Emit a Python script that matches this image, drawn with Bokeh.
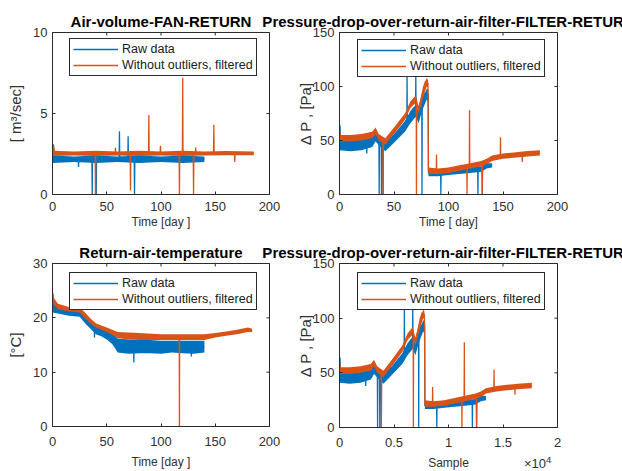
import math
from bokeh.plotting import figure
from bokeh.layouts import row, column
from bokeh.models import FixedTicker, Legend, LegendItem, Range1d, Div, CustomJSTickFormatter
from bokeh.embed import file_html
from bokeh.resources import INLINE

BLUE = "#0072BD"
ORANGE = "#D95319"
FONT = "Liberation Sans"
AXC = "#2b2b2b"
TXT = "#303030"

# ---------------- Air volume (top-left) ----------------
air_days_raw = [0, 0.7, 1.4, 23.7, 24, 24.3, 36.3, 36.6, 36.9, 40, 40.3, 40.6,
                61.4, 61.7, 62, 69.4, 69.7, 70, 75.3, 75.6, 75.9, 140]
air_raw = [2.2, 3.1, 2.2, 2.2, 1.7, 2.2, 2.2, 0, 2.2, 2.2, 0, 2.2,
           2.2, 3.9, 2.2, 2.2, 3.6, 2.2, 2.2, 0, 2.2, 2.2]
air_days_filt = [0, 1, 2, 39.3, 39.6, 39.9, 57.7, 58, 58.3, 71.6, 71.9, 72.2,
                 88.5, 88.8, 89.1, 99.2, 99.5, 99.8, 116.7, 117, 117.3, 119.7, 120, 120.3,
                 129.7, 130, 130.3, 131.7, 132, 132.3, 148.4, 148.7, 149, 167.7, 168, 168.3, 185.5]
air_filt = [2.55, 3.0, 2.55, 2.55, 0, 2.55, 2.55, 2.9, 2.55, 2.55, 0.25, 2.55,
            2.55, 4.9, 2.55, 2.55, 3.0, 2.55, 2.55, 0, 2.55, 2.55, 7.2, 2.55,
            2.55, 0, 2.55, 2.55, 2.9, 2.55, 2.55, 4.3, 2.55, 2.55, 2.0, 2.55, 2.55]
air_band_raw_days = [0, 20, 40, 60, 80, 100, 120, 140]
air_band_raw_lo = [1.95, 2.0, 1.95, 2.0, 1.95, 2.0, 1.95, 2.0]
air_band_raw_hi = [2.4, 2.35, 2.4, 2.35, 2.4, 2.35, 2.4, 2.35]
air_band_filt_days = [0, 20, 40, 60, 80, 100, 120, 140, 160, 185.5]
air_band_filt_lo = [2.38, 2.4, 2.38, 2.4, 2.38, 2.4, 2.38, 2.4, 2.42, 2.42]
air_band_filt_hi = [2.7, 2.66, 2.7, 2.66, 2.7, 2.66, 2.7, 2.66, 2.68, 2.66]

# ---------------- Pressure drop (top-right / bottom-right) ----------------
press_days_raw = [0, 0.5, 1, 10, 20, 24.7, 25, 25.3, 30, 33, 35, 36.2, 36.4, 36.6,
                  38.3, 38.5, 38.7, 39.8, 40, 40.2, 42, 45, 50, 55, 60, 61.8, 62, 62.2,
                  65, 68, 69.8, 70, 70.2, 72.5, 75.5, 75.7, 75.9, 78, 80, 81.4, 81.6,
                  85, 90, 92.8, 93, 93.2, 100, 110, 117, 126.8, 127, 127.2,
                  130.8, 131, 131.2, 135, 140]
press_raw = [46, 64, 46, 45, 46, 47, 38, 47, 50, 55, 50, 46, 0, 45,
             45, 0, 45, 46, 0, 45, 44, 47, 53, 59, 65, 67, 112, 68,
             75, 80, 80, 112, 79, 72, 84, 0, 86, 93, 95, 93, 20,
             19, 19, 19, 0, 19, 20, 21, 22, 22, 0, 22,
             23, 0, 23, 26, 27]
press_days_filt = [0, 0.5, 1, 10, 20, 30, 33, 35, 36, 39.8, 40, 40.2, 42, 45, 50, 55,
                   60, 65, 68, 70.4, 70.6, 70.8, 72.5, 75, 77, 79, 81.2, 81.6, 85,
                   88.8, 89, 89.2, 95, 100, 110, 116.8, 117, 117.2, 119.1, 119.3, 119.5,
                   125, 130.8, 131, 131.2, 133, 137, 140, 147.5, 147.7, 147.9, 155, 160,
                   167.5, 167.7, 167.9, 175, 183.8]
press_filt = [52, 58, 52, 53, 54, 57, 60, 55, 51, 50, 0, 50, 49, 53, 59, 66,
              72, 83, 88, 87, 0, 82, 78, 89, 99, 105, 103, 22, 22,
              22, 37, 22, 23, 23, 25, 27, 0, 27, 28, 78, 28,
              28, 29, 0, 29, 30, 33, 34, 34, 53, 35, 36, 37,
              37, 30, 37, 38, 38]
press_band_raw_days = [0, 10, 20, 30, 33, 36, 42, 50, 60, 65, 70, 72.5, 76, 80, 81.4,
                       81.6, 90, 100, 110, 120, 130, 135, 140]
press_band_raw_hi = [51, 50, 51, 53, 57, 53, 49, 56, 68, 77, 83, 76, 88, 98, 97,
                     23, 22, 23, 24, 25, 26, 29, 29]
press_band_raw_lo = [41, 40, 41, 44, 49, 46, 40, 48, 58, 66, 72, 66, 78, 88, 85,
                     17, 17, 18, 19, 20, 21, 24, 25]
press_band_filt_days = [0, 10, 20, 30, 33, 36, 42, 50, 60, 65, 70, 72.5, 76, 80, 81.2,
                        81.6, 90, 100, 110, 120, 130, 135, 140, 150, 160, 170, 183.8]
press_band_filt_hi = [55, 55, 56, 58, 62, 56, 52, 62, 75, 86, 92, 82, 95, 108, 106,
                      25, 24, 25, 27, 29, 31, 33, 36, 38, 39, 40, 41]
press_band_filt_lo = [49, 49, 50, 52, 56, 50, 46, 56, 69, 80, 85, 75, 88, 100, 99,
                      19, 19, 20, 22, 24, 26, 28, 31, 33, 34, 35, 36]
SAMPLES_PER_DAY = 96

# ---------------- Return air temperature (bottom-left) ----------------
temp_days_raw = [0, 0.5, 1, 15, 25, 30, 35, 38.5, 38.7, 38.9, 45, 50, 55, 60, 70,
                 74.8, 75, 75.2, 90, 110, 127.8, 128, 128.2, 140]
temp_raw = [21.8, 23.0, 21.6, 21.0, 20.8, 19.5, 18.6, 18.0, 16.4, 17.9, 17.3, 16.8, 16.1, 14.9, 14.7,
            14.5, 11.8, 14.5, 14.7, 14.7, 14.6, 12.9, 14.6, 14.6]
temp_days_filt = [0, 0.5, 1, 5, 15, 25, 30, 35, 40, 45, 50, 55, 60, 80, 100,
                  116.8, 117, 117.2, 140, 150, 160, 170, 180, 184]
temp_filt = [23.5, 24.5, 23.2, 22.1, 21.6, 21.4, 20.5, 19.4, 18.6, 18.2, 17.8, 17.4, 17.0, 16.8, 16.6,
             16.6, 0, 16.6, 16.6, 16.8, 17.1, 17.4, 17.8, 17.7]
temp_band_raw_days = [0, 5, 15, 25, 30, 35, 40, 45, 50, 55, 58, 60, 70, 80, 90, 100, 110, 120, 130, 140]
temp_band_raw_hi = [22.6, 22.0, 21.5, 21.3, 20.0, 19.2, 18.3, 18.0, 17.5, 17.0, 16.6, 16.2, 16.0, 15.9,
                    15.9, 15.8, 15.8, 15.8, 15.8, 15.8]
temp_band_raw_lo = [21.0, 20.8, 20.4, 20.2, 19.0, 18.0, 17.0, 16.6, 16.0, 15.2, 14.3, 13.6, 13.4, 13.5,
                    13.5, 13.4, 13.6, 13.5, 13.4, 13.6]
temp_band_filt_days = [0, 5, 15, 25, 30, 35, 40, 45, 50, 55, 60, 70, 80, 100, 120, 140, 150, 160, 170, 180, 184]
temp_band_filt_hi = [24.0, 22.6, 22.0, 21.9, 21.0, 19.9, 19.0, 18.6, 18.2, 17.8, 17.4, 17.3, 17.2, 17.0,
                     17.0, 17.0, 17.2, 17.5, 17.8, 18.2, 18.0]
temp_band_filt_lo = [22.8, 21.6, 21.2, 21.0, 20.0, 19.0, 18.2, 17.8, 17.4, 16.9, 16.3, 16.0, 15.9, 15.9,
                     15.9, 15.9, 16.4, 16.7, 17.0, 17.4, 17.4]

# ---------------- axis / tick settings ----------------
day_ticks = [0, 50, 100, 150, 200]
sample_ticks = [0, 5000, 10000, 15000, 20000]
SAMPLE_SCALE = 10000
air_ticks = [0, 5, 10]
press_ticks = [0, 50, 100, 150]
temp_ticks = [0, 10, 20, 30]

LEGEND_LABELS = ["Raw data", "Without outliers, filtered"]


def style_axis(ax, ticks):
    ax.ticker = FixedTicker(ticks=ticks)
    ax.axis_line_color = AXC
    ax.major_tick_line_color = AXC
    ax.major_tick_in = 3
    ax.major_tick_out = 0
    ax.minor_tick_line_color = None
    ax.major_label_text_font = FONT
    ax.major_label_text_color = TXT
    ax.major_label_text_font_size = "13px"
    ax.axis_label_text_font = FONT
    ax.axis_label_text_font_style = "normal"
    ax.axis_label_text_color = TXT


def make_panel(title, xr, yr, xticks, yticks, xlabel, ylabel, frame_w, frame_h,
               b_left, b_right, b_top, b_bottom, ylabel_standoff, transparent=False):
    p = figure(frame_width=frame_w, frame_height=frame_h,
               min_border_left=b_left, min_border_right=b_right,
               min_border_top=b_top, min_border_bottom=b_bottom,
               x_range=Range1d(*xr), y_range=Range1d(*yr),
               output_backend="svg", toolbar_location=None, title=title)
    p.xgrid.visible = False
    p.ygrid.visible = False
    p.outline_line_color = AXC
    p.outline_line_alpha = 1
    if transparent:
        p.border_fill_alpha = 0
    p.title.text_font = FONT
    p.title.text_font_size = "15px"
    p.title.text_font_style = "bold"
    p.title.text_color = "#000000"
    p.title.align = "center"
    p.title.standoff = 6
    style_axis(p.xaxis[0], xticks)
    style_axis(p.yaxis[0], yticks)
    p.xaxis[0].axis_label = xlabel
    p.yaxis[0].axis_label = ylabel
    p.xaxis[0].axis_label_text_font_size = "12px"
    p.yaxis[0].axis_label_text_font_size = "15px"
    p.xaxis[0].major_label_standoff = 7
    p.xaxis[0].axis_label_standoff = 1
    p.yaxis[0].major_label_standoff = 5
    p.yaxis[0].axis_label_standoff = ylabel_standoff
    # inward tick marks on the top and right edges of the box (clipped to the frame)
    p.scatter(x=xticks, y=[yr[1]] * len(xticks), marker="dash", angle=math.pi / 2,
              size=6, line_color=AXC, line_width=1)
    p.scatter(x=[xr[1]] * len(yticks), y=yticks, marker="dash", angle=0,
              size=6, line_color=AXC, line_width=1)
    return p


def add_series(p, xb_raw, lo_raw, hi_raw, x_raw, y_raw, xb_f, lo_f, hi_f, x_f, y_f, loc):
    p.varea(x=xb_raw, y1=lo_raw, y2=hi_raw, color=BLUE, alpha=1)
    r1 = p.line(x_raw, y_raw, color=BLUE, line_width=1.3)
    p.varea(x=xb_f, y1=lo_f, y2=hi_f, color=ORANGE, alpha=1)
    r2 = p.line(x_f, y_f, color=ORANGE, line_width=1.3)
    leg = Legend(items=[LegendItem(label=LEGEND_LABELS[0], renderers=[r1]),
                        LegendItem(label=LEGEND_LABELS[1], renderers=[r2])],
                 location=loc, margin=0, padding=3, spacing=2,
                 glyph_width=45, glyph_height=14, label_height=14, label_standoff=4,
                 label_text_font=FONT, label_text_font_size="12.5px", label_text_color="#202020",
                 border_line_color=AXC, border_line_width=1, border_line_alpha=1,
                 background_fill_color="white", background_fill_alpha=1)
    p.add_layout(leg)


# top-left
tl = make_panel("Air-volume-FAN-RETURN", (0, 200), (0, 10), day_ticks, air_ticks,
                "Time [day ]", "[ m\u00b3/sec]", 217, 162, 52, 31, 32, 41, 6)
add_series(tl, air_band_raw_days, air_band_raw_lo, air_band_raw_hi, air_days_raw, air_raw,
           air_band_filt_days, air_band_filt_lo, air_band_filt_hi, air_days_filt, air_filt, (17, 118))

# top-right
tr = make_panel("Pressure-drop-over-return-air-filter-FILTER-RETURN", (0, 200), (0, 150), day_ticks,
                press_ticks, "Time [ day]", "\u0394 P , [Pa]", 218, 162, 99, 65, 32, 41, -4,
                transparent=True)
add_series(tr, press_band_raw_days, press_band_raw_lo, press_band_raw_hi, press_days_raw, press_raw,
           press_band_filt_days, press_band_filt_lo, press_band_filt_hi, press_days_filt, press_filt,
           (18, 117))
tr.margin = (0, 0, 0, -60)

# bottom-left
bl = make_panel("Return-air-temperature", (0, 200), (0, 30), day_ticks, temp_ticks,
                "Time [day ]", "[\u00b0C]", 217, 163, 52, 31, 28, 45, 6)
add_series(bl, temp_band_raw_days, temp_band_raw_lo, temp_band_raw_hi, temp_days_raw, temp_raw,
           temp_band_filt_days, temp_band_filt_lo, temp_band_filt_hi, temp_days_filt, temp_filt,
           (17, 116))
bl.xaxis[0].major_label_standoff = 10
bl.xaxis[0].axis_label_standoff = 6


# bottom-right (same pressure data against sample index)
def to_samples(days):
    return [d * SAMPLES_PER_DAY for d in days]


br = make_panel("Pressure-drop-over-return-air-filter-FILTER-RETURN", (0, 20000), (0, 150), sample_ticks,
                press_ticks, "Sample", "\u0394 P , [Pa]", 218, 164, 99, 65, 28, 44, -4,
                transparent=True)
br.xaxis[0].formatter = CustomJSTickFormatter(args=dict(scale=SAMPLE_SCALE),
                                              code="return String(tick / scale);")
br.xaxis[0].major_label_standoff = 10
br.xaxis[0].axis_label_standoff = 6
add_series(br, to_samples(press_band_raw_days), press_band_raw_lo, press_band_raw_hi,
           to_samples(press_days_raw), press_raw,
           to_samples(press_band_filt_days), press_band_filt_lo, press_band_filt_hi,
           to_samples(press_days_filt), press_filt, (18, 117))
br.margin = (0, 0, 0, -60)

# axis exponent note of the bottom-right panel
exponent = Div(text="\u00d710<sup style='font-size:9.5px'>4</sup>", width=44, height=20,
               margin=(-22, 0, 0, 524),
               styles={"font-family": FONT, "font-size": "13px", "color": TXT, "line-height": "20px"})

layout = column(row(tl, tr), row(bl, br), exponent)

open("out.html", "w").write(file_html(layout, INLINE))
